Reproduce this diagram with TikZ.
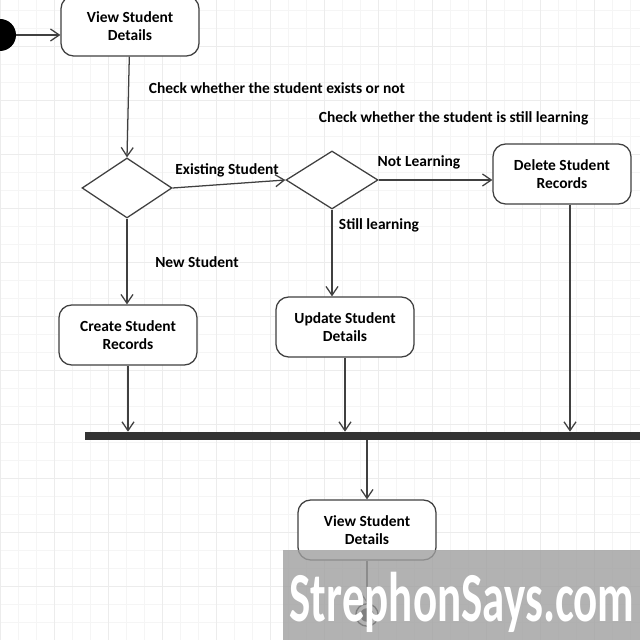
\documentclass[tikz,border=0pt]{standalone}
\usepackage{fontspec}
\setmainfont{Carlito}
\usepackage{tikz}
\usetikzlibrary{shapes,arrows.meta,positioning,calc}

\tikzset{
  activity/.style={draw=black!75,line width=0.9pt,rounded corners=9pt,fill=white,
    minimum width=3.45cm,minimum height=1.5cm,align=center,font=\bfseries\fontsize{11}{13}\selectfont},
  decision/.style={draw=black!75,line width=0.9pt,diamond,fill=white,inner sep=0pt},
  guard/.style={font=\bfseries\fontsize{11}{13}\selectfont},
  flow/.style={draw=black!75,line width=0.9pt,-{Straight Barb[length=2.2mm,width=3mm]}}
}

\begin{document}
\begin{tikzpicture}
\useasboundingbox (0,0) rectangle (16,16);
% Grid paper
\fill[white] (0,0) rectangle (16,16);
\draw[gray!8,step=0.45] (0,0) grid (16,16);
\draw[gray!15,step=1.35] (0,0) grid (16,16);

% Start
\fill (0,15.125) circle (0.4);
\coordinate (start) at (0.4,15.125);

% Activities
\node[activity] (view) at (3.25,15.35) {View Student\\Details};
\node[decision,minimum width=2.25cm,minimum height=1.5cm] (exists) at (3.175,11.3) {};
\node[decision,minimum width=2.3cm,minimum height=1.45cm] (learning) at (8.3,11.5) {};
\node[activity] (delete) at (14.05,11.65) {Delete Student\\Records};
\node[activity] (create) at (3.2,7.625) {Create Student\\Records};
\node[activity] (update) at (8.625,7.825) {Update Student\\Details};

% Join bar
\node[fill=black!80,minimum height=0.2cm,minimum width=13.9cm,inner sep=0pt] (join) at (9.07,5.1) {};

\node[activity] (viewend) at (9.175,2.75) {View Student\\Details};

% End
\node[draw,circle,line width=1pt,minimum size=0.56cm,inner sep=0pt] (stop) at (9.175,0.625) {};
\fill (stop) circle (0.17);

% Flows
\coordinate (deleteout) at ($(delete.south)+(0.2,0)$);
\draw[flow] (start) -- (view.west |- start);
\draw[flow] (view) -- (exists.north);
\draw[flow] (exists.east) -- (learning.west);
\draw[flow] (learning.east) -- (delete.west |- learning.east);
\draw[flow] (exists.south) -- (exists.south |- create.north);
\draw[flow] (learning.south) -- (learning.south |- update.north);
\draw[flow] (create.south) -- (create.south |- join.north);
\draw[flow] (update.south) -- (update.south |- join.north);
\draw[flow] (deleteout) -- (deleteout |- join.north);
\draw[flow] (viewend.north |- join.south) -- (viewend.north);
\draw[flow] (viewend.south) -- (stop.north);

% Labels
\node[guard,anchor=west] at (3.6,13.8) {Check whether the student exists or not};
\node[guard] at (5.675,11.75) {Existing Student};
\node[guard,anchor=west] at (7.85,13.05) {Check whether the student is still learning};
\node[guard] at (10.475,11.95) {Not Learning};
\node[guard,anchor=west] at (8.35,10.375) {Still learning};
\node[guard] at (4.925,9.45) {New Student};

% Watermark
\fill[gray!75,fill opacity=0.8] (7.075,0) rectangle (16,2.25);
\node[white,font=\bfseries\fontsize{50}{50}\selectfont,xscale=0.64,transform shape] (mark) at (11.55,0.95) {StrephonSays.com};
\end{tikzpicture}
\end{document}
